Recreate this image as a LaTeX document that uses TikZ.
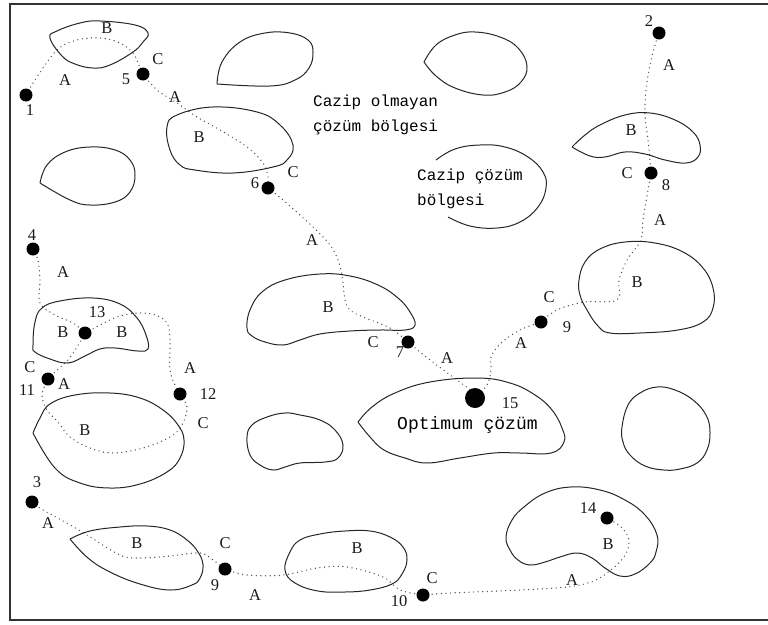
\documentclass[tikz,border=0pt]{standalone}
\usepackage{fontspec}
\setmainfont{Liberation Serif}
\newfontfamily\zonefont{Liberation Mono}
\usetikzlibrary{positioning}
\pgfdeclarelayer{bg}
\pgfsetlayers{bg,main}

\tikzset{
  region/.style={draw=black!85, line width=1pt, line join=round},
  route/.style={draw=black!70, line width=1.4pt, line cap=round, dash pattern=on 0pt off 4.6pt},
  stop/.style={circle, fill=black, inner sep=0pt, minimum size=13pt},
  goal/.style={stop, minimum size=20pt},
  tag/.style={font=\fontsize{16.5}{19}\selectfont, text=black!90, inner sep=0pt},
  num/.style={tag},
  zone/.style={font=\zonefont\fontsize{16}{25}\selectfont, text=black, anchor=west, align=left, inner sep=0pt},
}

\begin{document}
\begin{tikzpicture}[x=1pt, y=-1pt]
  \useasboundingbox (0,0) rectangle (768,624);
  % Frame (open on the right)
  \draw[black!80, line width=1.6pt] (775,4) -- (10,4) -- (10,620) -- (775,620);

  % --- Regions ---
  % top row
  \draw[region] plot[smooth cycle, tension=0.7] coordinates {(50,38) (57,31) (80,23) (100,21) (135,25) (148,33) (143,42) (133,52) (110,65) (93,68) (75,64) (62,56)};
  \draw[region] plot[smooth, tension=0.7] coordinates {(217,84) (222,62) (240,42) (265,33) (290,33) (308,40) (313,52) (309,68) (295,80) (270,86) (217,84)};
  \draw[region] plot[smooth, tension=0.7] coordinates {(424,62) (436,45) (455,35) (475,32) (500,37) (518,48) (527,66) (521,82) (505,92) (483,95) (455,88) (436,76) (424,62)};
  \draw[region] plot[smooth cycle, tension=0.7] coordinates {(167,127) (177,115) (213,107) (257,112) (280,125) (293,145) (287,160) (273,167) (233,173) (195,170) (180,165) (170,150)};
  \draw[region] plot[smooth, tension=0.7] coordinates {(40,183) (47,165) (65,152) (90,147) (115,150) (130,160) (135,175) (130,192) (115,202) (90,205) (70,200) (40,183)};
  \draw[region] plot[smooth, tension=0.7] coordinates {(572,147) (585,135) (600,125) (625,115) (650,113) (675,120) (693,132) (700,145) (698,157) (686,163) (665,160) (645,154) (625,152) (605,157) (590,156) (572,147)};
  % open ring round the attractive zone
  \draw[region] plot[smooth, tension=0.7] coordinates {(436,160) (455,149) (480,145) (505,147) (528,157) (543,172) (546,188) (538,207) (520,222) (497,228) (470,226) (448,217)};
  % middle row
  \draw[region] plot[smooth cycle, tension=0.7] coordinates {(579,280) (585,262) (600,249) (625,242) (655,243) (683,252) (703,268) (713,288) (713,308) (703,322) (678,330) (640,333) (610,333) (598,326) (587,310) (580,295)};
  \draw[region] plot[smooth cycle, tension=0.7] coordinates {(247,328) (250,310) (262,292) (285,280) (320,274) (350,276) (378,285) (398,298) (410,312) (415,325) (405,330) (380,330) (350,331) (320,334) (300,340) (283,345) (265,342) (252,336)};
  \draw[region] plot[smooth cycle, tension=0.7] coordinates {(33,345) (35,322) (42,308) (60,301) (93,298) (120,304) (137,318) (146,335) (148,349) (138,351) (115,348) (100,349) (85,356) (68,363) (50,359) (35,352)};
  % optimum region
  \draw[region] plot[smooth, tension=0.7] coordinates {(358,422) (372,407) (395,393) (430,382) (477,378) (510,383) (535,395) (552,410) (562,428) (564,442) (551,453) (520,453) (494,453) (460,458) (427,463) (405,458) (384,450) (370,437) (358,422)};
  \draw[region] plot[smooth cycle, tension=0.7] coordinates {(622,427) (628,405) (640,393) (657,387) (675,390) (693,400) (706,415) (710,432) (707,450) (697,463) (680,469) (664,470) (645,466) (630,455) (623,442)};
  \draw[region] plot[smooth cycle, tension=0.7] coordinates {(247,437) (252,425) (267,417) (285,413) (300,415) (320,420) (335,430) (343,445) (338,458) (325,462) (300,463) (285,467) (273,470) (260,465) (250,455)};
  \draw[region] plot[smooth, tension=0.7] coordinates {(33,433) (40,418) (50,404) (75,395) (110,393) (140,398) (163,410) (178,425) (184,440) (180,458) (167,472) (140,484) (110,488) (80,483) (55,468) (33,433)};
  % bottom row
  \draw[region] plot[smooth, tension=0.7] coordinates {(70,539) (90,531) (120,527) (147,526) (170,530) (187,540) (198,552) (203,565) (200,578) (192,585) (170,590) (140,584) (110,572) (88,558) (70,539)};
  \draw[region] plot[smooth cycle, tension=0.7] coordinates {(285,570) (290,552) (300,540) (320,534) (345,531) (370,531) (390,537) (403,547) (407,560) (402,574) (392,584) (370,590) (345,592) (318,591) (295,583)};
  \draw[region] plot[smooth cycle, tension=0.7] coordinates {(506,537) (512,520) (524,507) (545,493) (571,487) (600,490) (625,500) (645,515) (657,535) (656,552) (650,563) (635,574) (620,576) (605,568) (592,558) (577,553) (560,557) (545,562) (530,565) (518,560) (510,550)};

  % --- Zone texts ---
  \node[zone] (z1) at (313,115) {Cazip olmayan\\çözüm bölgesi};
  \node[zone] (z2) at (417,189) {Cazip çözüm\\bölgesi};
  \node[zone, font=\zonefont\fontsize{18}{22}\selectfont] (z3) at (397,425) {Optimum çözüm};

  % --- Start and turning points ---
  \node[stop] (n1) at (26,95) {};
  \node[stop] (n2) at (659,33) {};
  \node[stop] (n3) at (32,502) {};
  \node[stop] (n4) at (33,249) {};
  \node[stop] (n5) at (143,74) {};
  \node[stop] (n6) at (268,188) {};
  \node[stop] (n7) at (408,342) {};
  \node[stop] (n8) at (651,173) {};
  \node[stop] (n9a) at (541,322) {};
  \node[stop] (n9b) at (225,569) {};
  \node[stop] (n10) at (423,595) {};
  \node[stop] (n11) at (48,379) {};
  \node[stop] (n12) at (180,394) {};
  \node[stop] (n13) at (85,333) {};
  \node[stop] (n14) at (607,518) {};
  \node[goal] (n15) at (475,398) {};

  % --- Search routes ---
  \begin{pgfonlayer}{bg}
    \draw[route] plot[smooth, tension=0.6] coordinates {(n1.center) (37,77) (57,50) (77,40) (100,38) (120,43) (133,53) (138,63) (n5.center)};
    \draw[route] plot[smooth, tension=0.6] coordinates {(n5.center) (157,90) (177,103) (197,117) (220,130) (247,147) (263,163) (268,177) (n6.center)};
    \draw[route] plot[smooth, tension=0.6] coordinates {(n6.center) (283,200) (313,227) (330,245) (338,260) (342,275) (345,300) (350,310) (363,317) (390,328) (n7.center)};
    \draw[route] plot[smooth, tension=0.6] coordinates {(n7.center) (430,360) (457,380) (470,390) (n15.center)};
    \draw[route] plot[smooth, tension=0.6] coordinates {(n15.center) (487,385) (491,370) (491,357) (501,343) (520,330) (n9a.center)};
    \draw[route] plot[smooth, tension=0.6] coordinates {(n9a.center) (557,310) (584,302) (617,300) (619,280) (627,260) (641,240) (643,220) (648,190) (n8.center)};
    \draw[route] plot[smooth, tension=0.6] coordinates {(n8.center) (650,160) (648,140) (645,115) (646,90) (650,65) (655,45) (n2.center)};
    \draw[route] plot[smooth, tension=0.6] coordinates {(n4.center) (38,260) (40,280) (40,303) (55,315) (73,323) (n13.center)};
    \draw[route] plot[smooth, tension=0.6] coordinates {(n13.center) (100,325) (117,317) (137,313) (155,315) (167,323) (170,340) (170,370) (175,385) (n12.center)};
    \draw[route] plot[smooth, tension=0.6] coordinates {(n13.center) (77,347) (68,360) (55,372) (n11.center)};
    \draw[route] plot[smooth, tension=0.6] coordinates {(n11.center) (42,395) (47,410) (58,422) (70,437) (90,448) (113,453) (143,448) (170,437) (182,425) (187,407) (n12.center)};
    \draw[route] plot[smooth, tension=0.6] coordinates {(n3.center) (43,510) (65,522) (87,535) (120,555) (140,558) (170,556) (200,553) (213,560) (n9b.center)};
    \draw[route] plot[smooth, tension=0.6] coordinates {(n9b.center) (247,575) (283,575) (317,568) (347,567) (383,577) (400,590) (n10.center)};
    \draw[route] plot[smooth, tension=0.6] coordinates {(n10.center) (451,593) (520,590) (567,587) (591,582) (607,573) (624,557) (629,540) (621,527) (n14.center)};
  \end{pgfonlayer}

  % --- Labels: route 1 to the optimum ---
  \node[tag] (b1) at (107,28) {B};
  \node[tag] (a1) at (65,80) {A};
  \node[tag] (c1) at (158,59) {C};
  \node[num] (t5) at (126,79) {5};
  \node[num] (t1) at (30,110) {1};
  \node[tag] (a2) at (175,97) {A};
  \node[tag] (b2) at (199,137) {B};
  \node[tag] (c2) at (293,172) {C};
  \node[num] (t6) at (255,183) {6};
  \node[tag] (a3) at (312,240) {A};
  \node[tag] (b3) at (328,307) {B};
  \node[tag] (c3) at (373,342) {C};
  \node[num] (t7) at (400,352) {7};
  \node[tag] (a4) at (447,358) {A};
  \node[num] (t15) at (510,403) {15};

  % --- Labels: route 2 ---
  \node[num] (t2) at (649,21) {2};
  \node[tag] (a7) at (669,65) {A};
  \node[tag] (b5) at (631,130) {B};
  \node[tag] (c5) at (627,173) {C};
  \node[num] (t8) at (666,185) {8};
  \node[tag] (a6) at (660,220) {A};
  \node[tag] (b4) at (637,282) {B};
  \node[tag] (c4) at (549,297) {C};
  \node[num] (t9a) at (567,327) {9};
  \node[tag] (a5) at (521,343) {A};

  % --- Labels: route 4 ---
  \node[num] (t4) at (32,235) {4};
  \node[tag] (a8) at (63,272) {A};
  \node[num] (t13) at (97,312) {13};
  \node[tag] (b6) at (63,332) {B};
  \node[tag] (b7) at (122,332) {B};
  \node[tag] (c6) at (30,367) {C};
  \node[num] (t11) at (27,390) {11};
  \node[tag] (a9) at (64,384) {A};
  \node[tag] (a10) at (190,368) {A};
  \node[num] (t12) at (208,394) {12};
  \node[tag] (c7) at (203,423) {C};
  \node[tag] (b8) at (85,430) {B};

  % --- Labels: route 3 ---
  \node[num] (t3) at (37,482) {3};
  \node[tag] (a11) at (48,523) {A};
  \node[tag] (b9) at (137,543) {B};
  \node[tag] (c8) at (225,543) {C};
  \node[num] (t9b) at (215,585) {9};
  \node[tag] (a12) at (255,595) {A};
  \node[tag] (b10) at (357,548) {B};
  \node[tag] (c9) at (432,578) {C};
  \node[num] (t10) at (399,601) {10};
  \node[tag] (a13) at (572,580) {A};
  \node[num] (t14) at (588,508) {14};
  \node[tag] (b11) at (608,544) {B};
\end{tikzpicture}
\end{document}
